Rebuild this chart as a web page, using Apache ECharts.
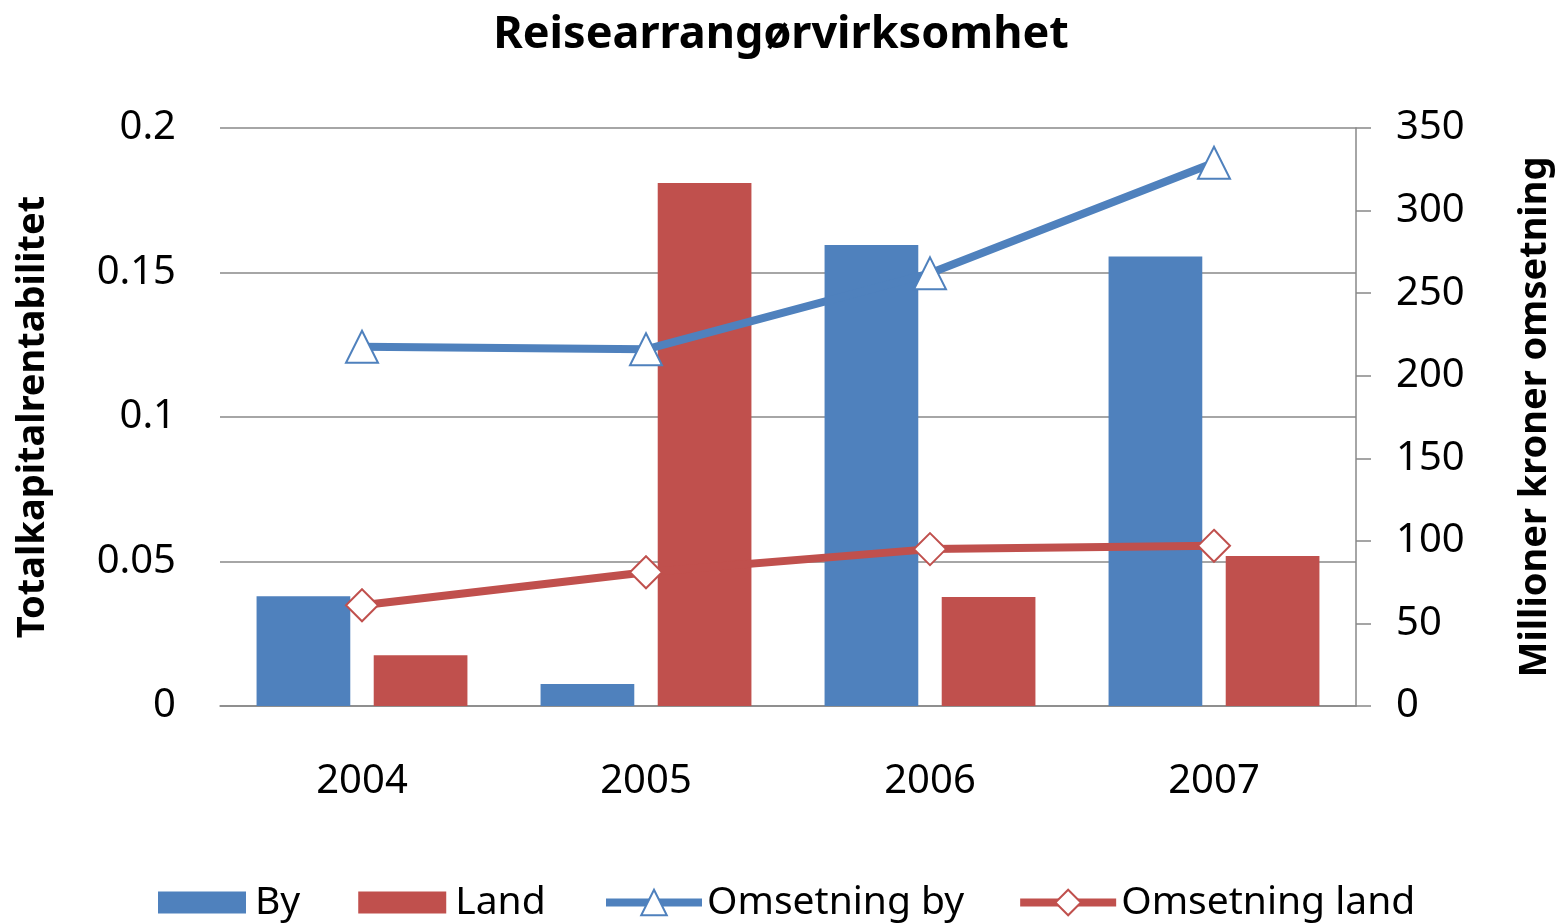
<!DOCTYPE html>
<html>
<head>
<meta charset="utf-8">
<script src="https://cdn.jsdelivr.net/npm/echarts@6/dist/echarts.min.js"></script>
<style>
  html, body { margin: 0; padding: 0; background: #fff; }
  #chart { width: 1562px; height: 923px; }
</style>
</head>
<body>
<div id="chart"></div>
<script>
// data
const years = ['2004', '2005', '2006', '2007'];
const byRent = [0.038, 0.0076, 0.1595, 0.1555];
const landRent = [0.0176, 0.181, 0.0377, 0.0519];
const omsetningBy = [217.5, 216, 262, 329];
const omsetningLand = [61, 81, 95, 97];

const blue = '#4F81BD';
const red = '#C0504D';
const font = 'Noto Sans';

const chart = echarts.init(document.getElementById('chart'));
const option = {
  backgroundColor: '#fff',
  textStyle: { fontFamily: font, color: '#000' },
  title: {
    text: 'Reisearrangørvirksomhet',
    left: 'center',
    top: 8,
    textStyle: { fontFamily: font, fontSize: 45, fontWeight: 'bold', color: '#000' }
  },
  grid: { left: 220, right: 204, top: 128, bottom: 217 },
  legend: [
    {
      left: 153,
      top: 878,
      itemGap: 58,
      itemWidth: 88,
      itemHeight: 22,
      icon: 'rect',
      textStyle: { fontFamily: font, fontSize: 39, color: '#000', padding: [0, 0, 0, 4] },
      data: ['By', 'Land']
    },
    {
      left: 597,
      top: 878,
      itemGap: 52,
      itemWidth: 96,
      itemHeight: 32,
      lineStyle: { width: 8 },
      textStyle: { fontFamily: font, fontSize: 39, color: '#000' },
      data: ['Omsetning by', 'Omsetning land']
    }
  ],
  xAxis: {
    type: 'category',
    data: years,
    axisLine: { lineStyle: { color: '#888', width: 1.5 } },
    axisTick: { show: false },
    axisLabel: { fontFamily: font, fontSize: 40, color: '#000', margin: 56 }
  },
  yAxis: [
    {
      type: 'value',
      min: 0, max: 0.2, interval: 0.05,
      name: 'Totalkapitalrentabilitet',
      nameLocation: 'middle',
      nameRotate: 90,
      nameGap: 168,
      nameTextStyle: { fontFamily: font, fontSize: 38, fontWeight: 'bold', color: '#000' },
      axisLine: { show: false },
      axisTick: { show: false },
      axisLabel: { fontFamily: font, fontSize: 40, color: '#000', margin: 44 },
      splitLine: { lineStyle: { color: '#888', width: 1.5 } }
    },
    {
      type: 'value',
      min: 0, max: 350, interval: 50,
      position: 'right',
      name: 'Millioner kroner omsetning',
      nameLocation: 'middle',
      nameRotate: 90,
      nameGap: 160,
      nameTextStyle: { fontFamily: font, fontSize: 38, fontWeight: 'bold', color: '#000' },
      axisLine: { show: true, lineStyle: { color: '#888', width: 1.5 } },
      axisTick: { show: true, inside: false, length: 15, lineStyle: { color: '#888', width: 1.5 } },
      axisLabel: { fontFamily: font, fontSize: 40, color: '#000', margin: 40 },
      splitLine: { show: false }
    }
  ],
  series: [
    {
      name: 'By', type: 'bar', yAxisIndex: 0, data: byRent,
      barWidth: '33%', barGap: '25%',
      itemStyle: { color: blue }
    },
    {
      name: 'Land', type: 'bar', yAxisIndex: 0, data: landRent,
      barWidth: '33%',
      itemStyle: { color: red }
    },
    {
      name: 'Omsetning by', type: 'line', yAxisIndex: 1, data: omsetningBy,
      symbol: 'triangle', symbolSize: 32,
      lineStyle: { color: blue, width: 8 },
      itemStyle: { color: '#fff', borderColor: blue, borderWidth: 2 },
      z: 5
    },
    {
      name: 'Omsetning land', type: 'line', yAxisIndex: 1, data: omsetningLand,
      symbol: 'diamond', symbolSize: 32,
      lineStyle: { color: red, width: 8 },
      itemStyle: { color: '#fff', borderColor: red, borderWidth: 2 },
      z: 5
    }
  ]
};
chart.setOption(option);
</script>
</body>
</html>
